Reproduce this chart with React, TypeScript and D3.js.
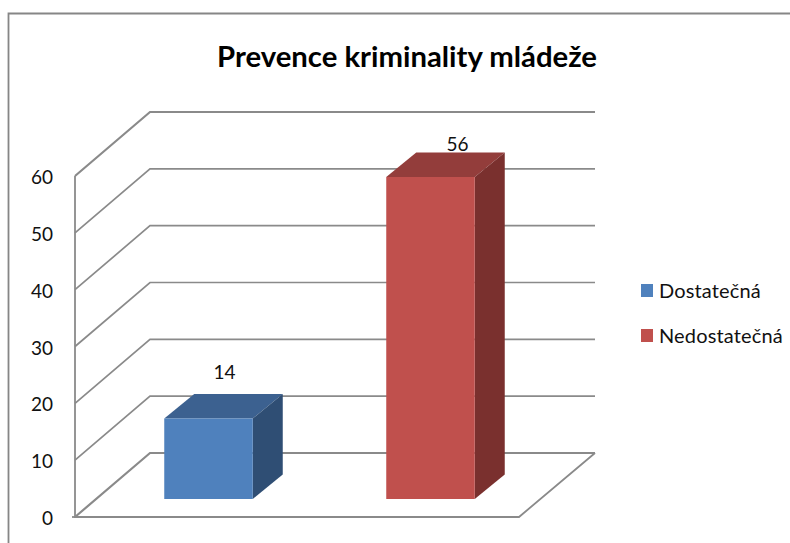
import React from "react";
import * as d3 from "d3";

const categories = ["Dostatečná", "Nedostatečná"];
const values = [14, 56];
const colors = ["#4f81bd", "#c0504d"];
const topColors = ["#3c6190", "#933d3b"];
const sideColors = ["#2f4e74", "#7a302e"];
const ticks = [0, 10, 20, 30, 40, 50, 60];
const title = "Prevence kriminality mládeže";

const W = 790, H = 543;
const y = d3.scaleLinear().domain([0, 60]).range([517, 176]);
const yBar = d3.scaleLinear().domain([0, 60]).range([499, 154]);
const x = d3.scaleBand<string>().domain(categories).range([97.5, 541.5]);
const backDx = 75, backDy = -64;
const plotRight = 519;
const barW = 88.5, barDx = 30, barDy = -24.5;
const grid = "#8a8a8a";
const font = "Lato, 'Open Sans', sans-serif";
const line = d3.line();
const labelPlacement = (i: number) => (i === 0 ? { dx: 16, dy: -15 } : { dx: 27, dy: -2 });

export default function App() {
  return (
    <svg width={W} height={H} viewBox={`0 0 ${W} ${H}`} style={{ position: "absolute", left: 0, top: 0, background: "#fff" }}>
      <path d="M8.5,543V13.5H790" fill="none" stroke="#868686" strokeWidth={1.8} />
      <text x={407} y={67} textAnchor="middle" fontFamily={font} fontWeight={700} fontSize={29} textLength={380} lengthAdjust="spacingAndGlyphs" fill="#000">{title}</text>
      {ticks.map((t) => {
        const v = y(t);
        const pts: [number, number][] = [[75, v], [75 + backDx, v + backDy], [plotRight + backDx + 1, v + backDy]];
        return <path key={t} d={line(pts)!} fill="none" stroke={grid} strokeWidth={t === 60 || t === 0 ? 2.2 : 1.7} />;
      })}
      <path d={line([[75, y(60)], [75, y(0)], [plotRight, y(0)], [plotRight + backDx + 1, y(0) + backDy]])!} fill="none" stroke={grid} strokeWidth={1.8} />
      <path d={line([[72, y(0)], [75, y(0)]])!} stroke={grid} strokeWidth={1.8} />
      {ticks.map((t) => (
        <text key={t} x={53} y={y(t) + 8} textAnchor="end" fontFamily={font} fontSize={19} fill="#111">{t}</text>
      ))}
      {categories.map((c, i) => {
        const cx = x(c)! + x.bandwidth() / 2;
        const l = cx - barW / 2, r = cx + barW / 2;
        const b = yBar(0), t = yBar(values[i]);
        const p = labelPlacement(i);
        return (
          <g key={c}>
            <path d={line([[l, t], [l + barDx, t + barDy], [r + barDx, t + barDy], [r, t]])! + "Z"} fill={topColors[i]} />
            <path d={line([[r, t], [r + barDx, t + barDy], [r + barDx, b + barDy], [r, b]])! + "Z"} fill={sideColors[i]} />
            <rect x={l} y={t} width={barW} height={b - t} fill={colors[i]} />
            <text x={cx + p.dx} y={t + barDy + p.dy} textAnchor="middle" fontFamily={font} fontSize={19} fill="#111">{values[i]}</text>
          </g>
        );
      })}
      {categories.map((c, i) => {
        const ly = 284 + i * 45;
        return (
          <g key={c}>
            <rect x={641} y={ly} width={12} height={13} fill={colors[i]} />
            <text x={659} y={ly + 14} fontFamily={font} fontSize={20} letterSpacing={0.15} fill="#111">{c}</text>
          </g>
        );
      })}
    </svg>
  );
}
